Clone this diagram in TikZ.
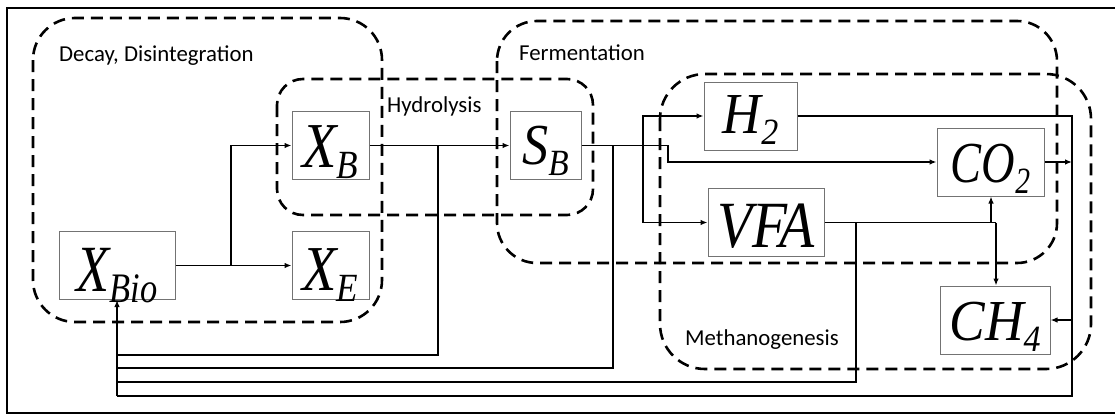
\documentclass[tikz,border=0pt]{standalone}
\usepackage{fontspec}
\setmainfont{Liberation Serif}
\newfontfamily\labfont{Carlito}
\usetikzlibrary{arrows.meta}
% #1 horizontal scale, #2 main size, #3 sub size, #4 main text, #5 subscript
\newcommand\mlab[5]{\scalebox{#1}[1]{\rmfamily\itshape\fontsize{#2}{#2}\selectfont #4\raisebox{-11pt}{\fontsize{#3}{#3}\selectfont #5}}}
\begin{document}
\begin{tikzpicture}[x=1pt,y=-1pt,
  box/.style={draw=black!55, line width=1pt, fill=white, inner sep=0pt,
    text height=60pt, text depth=8pt, minimum height=68pt},
  conn/.style={line width=1.3pt},
  arr/.style={conn, -{Latex[length=7pt,width=5.5pt]}},
  region/.style={draw, line width=2.6pt, dash pattern=on 12pt off 7pt},
  lab/.style={font=\labfont\fontsize{22.8}{26}\selectfont, anchor=base west, inner sep=0pt}]
\useasboundingbox (0,0) rectangle (1115,415);
\begin{scope}
\clip (0,0) rectangle (1115,415);
\draw[line width=1.8pt] (7,8) rectangle (1125,413);
\end{scope}
% regions
\draw[region, rounded corners=42pt] (33,18) rectangle (382,322);
\draw[region, rounded corners=26pt] (277,79) rectangle (593,215);
\draw[region, rounded corners=40pt] (497,21) rectangle (1057,263);
\draw[region, rounded corners=45pt] (660,74) rectangle (1091,369);
% labels
\node[lab] (ldecay) at (59,61) {Decay, Disintegration};
\node[lab] (lhydro) at (387,112) {Hydrolysis};
\node[lab] (lferm) at (519,60) {Fermentation};
\node[lab] (lmeth) at (685,345) {Methanogenesis};
% boxes
\node[box, minimum width=116pt, text height=60pt, text depth=8pt] (xbio) at (117,265.5) {\mlab{0.82}{66}{42}{X}{Bio}};
\node[box, minimum width=77pt, text height=56pt, text depth=12pt] (xb) at (330.5,145.5) {\mlab{0.88}{64}{40}{X}{B}};
\node[box, minimum width=77pt, text height=59pt, text depth=9pt] (xe) at (330.5,265.5) {\mlab{0.88}{64}{40}{X}{E}};
\node[box, minimum width=71pt, text height=53pt, text depth=15pt] (sb) at (545.5,145.5) {\mlab{0.9}{58}{37}{S}{B}};
\node[box, minimum width=93pt, text height=51pt, text depth=17pt] (h2) at (750.5,116) {\mlab{0.92}{58}{37}{H}{2}};
\node[box, minimum width=116pt, text height=59pt, text depth=9pt] (vfa) at (766,222.5) {\mlab{0.87}{66}{40}{VFA}{}};
\node[box, minimum width=107pt, text height=54pt, text depth=14pt] (co2) at (990.5,162) {\mlab{0.8}{58}{37}{CO}{2}};
\node[box, minimum width=110pt, text height=54pt, text depth=14pt] (ch4) at (995,320) {\mlab{0.92}{58}{37}{CH}{4}};
% junction coordinates
\coordinate (j1) at (231,265.5);
\coordinate (f1) at (438,145.5);
\coordinate (f2) at (613,145.5);
\coordinate (f3) at (643,145.5);
\coordinate (f4) at (668,145.5);
\coordinate (v1) at (856,222.5);
\coordinate (v2) at (991,222.5);
\coordinate (v3) at (996,222.5);
\coordinate (r1) at (1072,116);
\coordinate (r2) at (1072,162);
\coordinate (r3) at (1072,320);
\coordinate (r4) at (1072,396);
\coordinate (b1) at (117,355);
\coordinate (b2) at (117,368);
\coordinate (b3) at (117,382);
\coordinate (b4) at (117,396);
% connectors
\draw[arr] (xbio.east) -- (xe.west);
\draw[arr] (j1) |- (xb.west);
\draw[arr] (xb.east) -- (sb.west);
\draw[conn] (f1) |- (b1);
\draw[arr] (sb.east) -- (f4) |- (co2.west);
\draw[conn] (f2) |- (b2);
\draw[arr] (f3) |- (h2.west);
\draw[arr] (f3) |- (vfa.west);
\draw[conn] (h2.east) -- (r1) -- (r4) -- (b4);
\draw[arr] (co2.east) -- (r2);
\draw[arr] (r3) -- (ch4.east);
\draw[conn] (vfa.east) -- (v3);
\draw[conn] (v1) |- (b3);
\draw[arr] (v2) -- (v2 |- co2.south);
\draw[arr] (v3) -- (v3 |- ch4.north);
\draw[arr] (b4) -- (xbio.south);
\end{tikzpicture}
\end{document}
